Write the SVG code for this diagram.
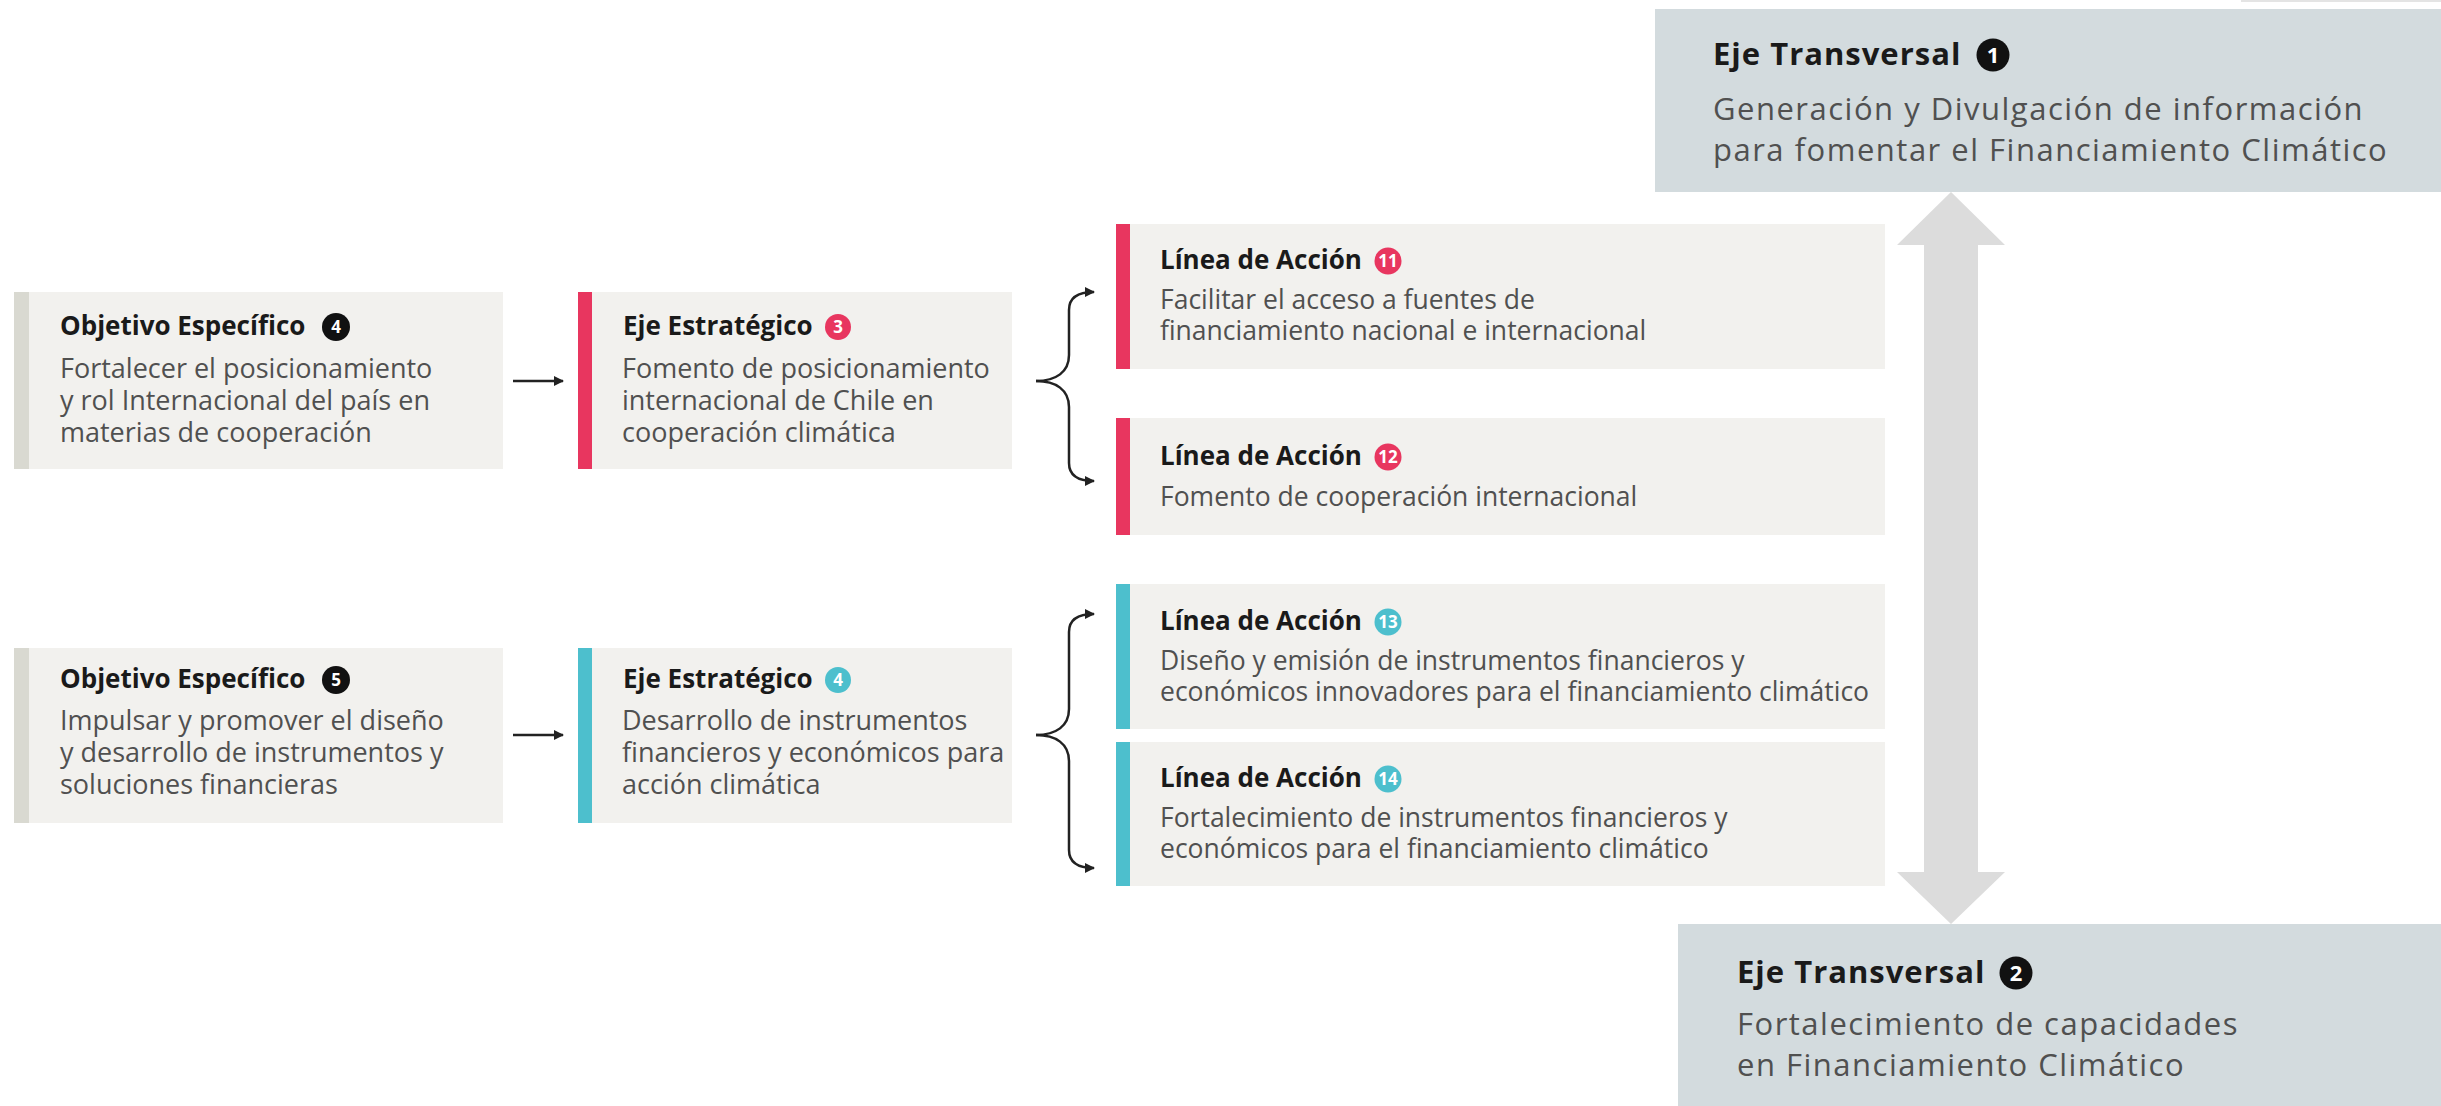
<svg xmlns="http://www.w3.org/2000/svg" width="2441" height="1106" viewBox="0 0 2441 1106">
<defs>
<style>
.box{fill:#f2f1ee}
.tbox{fill:#d3dbde}
.bgray{fill:#d9d9d1}
.bpink{fill:#e8365f}
.bcyan{fill:#4dbfcd}
.t{font-family:"Open Sans","DejaVu Sans",sans-serif;font-weight:700;font-size:26px;fill:#1a1a1a}
.b{font-family:"Open Sans","DejaVu Sans",sans-serif;font-size:27px;fill:#505050}
.bl{font-family:"Open Sans","DejaVu Sans",sans-serif;font-size:26.5px;fill:#505050}
.tt{font-family:"Open Sans","DejaVu Sans",sans-serif;font-weight:700;font-size:31px;letter-spacing:1px;fill:#1a1a1a}
.tb{font-family:"Open Sans","DejaVu Sans",sans-serif;font-size:31px;letter-spacing:1.5px;fill:#505050}
.n{font-family:"Open Sans","DejaVu Sans",sans-serif;font-weight:700;font-size:17px;fill:#ffffff;text-anchor:middle}
.nl{font-family:"Open Sans","DejaVu Sans",sans-serif;font-weight:700;font-size:22px;fill:#ffffff;text-anchor:middle}
.cb{fill:#111111}
.cp{fill:#e8365f}
.cc{fill:#4dbfcd}
.con{fill:none;stroke:#222222;stroke-width:2.5}
</style>
<marker id="ah" viewBox="0 0 10 10" refX="9" refY="5" markerWidth="10" markerHeight="10" markerUnits="userSpaceOnUse" orient="auto">
<path d="M0,0 L10,5 L0,10 z" fill="#222222"/>
</marker>
</defs>
<rect x="0" y="0" width="2441" height="1106" fill="#ffffff"/>
<rect x="2241" y="0" width="200" height="2" fill="#e4e4e4"/>

<g id="transversal-arrow">
<polygon points="1951,192 2005,245 1978,245 1978,872 2005,872 1951,924 1897,872 1924,872 1924,245 1897,245" fill="#dcdcdc"/>
</g>

<g id="eje-transversal-1">
<rect class="tbox" x="1655" y="9" width="786" height="183"/>
<text class="tt" x="1713" y="65">Eje Transversal</text>
<circle class="cb" cx="1993" cy="55" r="16.5"/>
<text class="nl" x="1993" y="63">1</text>
<text class="tb" x="1713" y="120">Generación y Divulgación de información<tspan x="1713" dy="41">para fomentar el Financiamiento Climático</tspan></text>
</g>

<g id="eje-transversal-2">
<rect class="tbox" x="1678" y="924" width="763" height="182"/>
<text class="tt" x="1737" y="983">Eje Transversal</text>
<circle class="cb" cx="2016" cy="973" r="16.5"/>
<text class="nl" x="2016" y="981">2</text>
<text class="tb" x="1737" y="1035">Fortalecimiento de capacidades<tspan x="1737" dy="41">en Financiamiento Climático</tspan></text>
</g>

<g id="objetivo-4">
<rect class="box" x="14" y="292" width="489" height="177"/>
<rect class="bgray" x="14" y="292" width="15" height="177"/>
<text class="t" x="60" y="335">Objetivo Específico</text>
<circle class="cb" cx="336" cy="327" r="14"/>
<text class="n" x="336" y="333">4</text>
<text class="b" x="60" y="378">Fortalecer el posicionamiento<tspan x="60" dy="32">y rol Internacional del país en</tspan><tspan x="60" dy="32">materias de cooperación</tspan></text>
</g>

<g id="eje-estrategico-3">
<rect class="box" x="578" y="292" width="434" height="177"/>
<rect class="bpink" x="578" y="292" width="14" height="177"/>
<text class="t" x="623" y="335">Eje Estratégico</text>
<circle class="cp" cx="838" cy="327" r="13"/>
<text class="n" x="838" y="333">3</text>
<text class="b" x="622" y="378">Fomento de posicionamiento<tspan x="622" dy="32">internacional de Chile en</tspan><tspan x="622" dy="32">cooperación climática</tspan></text>
</g>

<g id="objetivo-5">
<rect class="box" x="14" y="648" width="489" height="175"/>
<rect class="bgray" x="14" y="648" width="15" height="175"/>
<text class="t" x="60" y="688">Objetivo Específico</text>
<circle class="cb" cx="336" cy="680" r="14"/>
<text class="n" x="336" y="686">5</text>
<text class="b" x="60" y="730">Impulsar y promover el diseño<tspan x="60" dy="32">y desarrollo de instrumentos y</tspan><tspan x="60" dy="32">soluciones financieras</tspan></text>
</g>

<g id="eje-estrategico-4">
<rect class="box" x="578" y="648" width="434" height="175"/>
<rect class="bcyan" x="578" y="648" width="14" height="175"/>
<text class="t" x="623" y="688">Eje Estratégico</text>
<circle class="cc" cx="838" cy="680" r="13"/>
<text class="n" x="838" y="686">4</text>
<text class="b" x="622" y="730">Desarrollo de instrumentos<tspan x="622" dy="32">financieros y económicos para</tspan><tspan x="622" dy="32">acción climática</tspan></text>
</g>

<g id="linea-11">
<rect class="box" x="1116" y="224" width="769" height="145"/>
<rect class="bpink" x="1116" y="224" width="14" height="145"/>
<text class="t" x="1160" y="269">Línea de Acción</text>
<circle class="cp" cx="1388" cy="261" r="13.5"/>
<text class="n" x="1388" y="267">11</text>
<text class="bl" x="1160" y="309">Facilitar el acceso a fuentes de<tspan x="1160" dy="31">financiamiento nacional e internacional</tspan></text>
</g>

<g id="linea-12">
<rect class="box" x="1116" y="418" width="769" height="117"/>
<rect class="bpink" x="1116" y="418" width="14" height="117"/>
<text class="t" x="1160" y="465">Línea de Acción</text>
<circle class="cp" cx="1388" cy="457" r="13.5"/>
<text class="n" x="1388" y="463">12</text>
<text class="bl" x="1160" y="506">Fomento de cooperación internacional</text>
</g>

<g id="linea-13">
<rect class="box" x="1116" y="584" width="769" height="145"/>
<rect class="bcyan" x="1116" y="584" width="14" height="145"/>
<text class="t" x="1160" y="630">Línea de Acción</text>
<circle class="cc" cx="1388" cy="622" r="13.5"/>
<text class="n" x="1388" y="628">13</text>
<text class="bl" x="1160" y="670">Diseño y emisión de instrumentos financieros y<tspan x="1160" dy="31">económicos innovadores para el financiamiento climático</tspan></text>
</g>

<g id="linea-14">
<rect class="box" x="1116" y="742" width="769" height="144"/>
<rect class="bcyan" x="1116" y="742" width="14" height="144"/>
<text class="t" x="1160" y="787">Línea de Acción</text>
<circle class="cc" cx="1388" cy="779" r="13.5"/>
<text class="n" x="1388" y="785">14</text>
<text class="bl" x="1160" y="827">Fortalecimiento de instrumentos financieros y<tspan x="1160" dy="31">económicos para el financiamiento climático</tspan></text>
</g>

<g id="connectors">
<line class="con" x1="513" y1="381" x2="563" y2="381" marker-end="url(#ah)"/>
<line class="con" x1="513" y1="735" x2="563" y2="735" marker-end="url(#ah)"/>
<path class="con" d="M1036,381 C1056,381 1069,372 1069,355 L1069,310 C1069,299 1076,292 1094,292" marker-end="url(#ah)"/>
<path class="con" d="M1036,381 C1056,381 1069,390 1069,407 L1069,463 C1069,474 1076,481 1094,481" marker-end="url(#ah)"/>
<path class="con" d="M1036,735 C1056,735 1069,726 1069,709 L1069,632 C1069,621 1076,614 1094,614" marker-end="url(#ah)"/>
<path class="con" d="M1036,735 C1056,735 1069,744 1069,761 L1069,850 C1069,861 1076,868 1094,868" marker-end="url(#ah)"/>
</g>
</svg>
